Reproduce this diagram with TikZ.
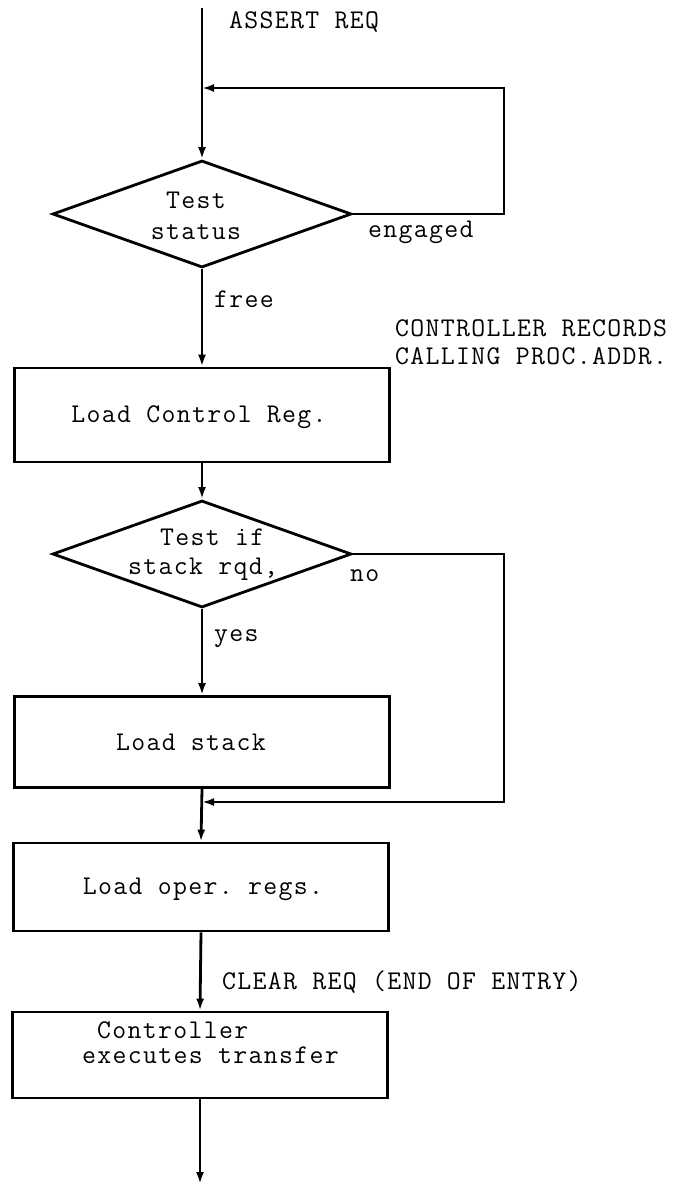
\documentclass[tikz,border=0pt]{standalone}
\usepackage{fontspec}
\setmonofont{Latin Modern Mono}[LetterSpace=5]
\usetikzlibrary{arrows.meta,shapes.geometric}
\tikzset{
  flow/.style={line width=2.8pt},
  arr/.style={flow,-{Latex[length=12pt,width=8pt]}},
  procbox/.style={draw,line width=2.8pt,minimum width=375pt,inner sep=0pt},
  decision/.style={draw,diamond,line width=2.8pt,inner sep=0pt,
    minimum width=299pt,minimum height=107pt},
  txt/.style={font=\ttfamily\fontsize{27}{28}\selectfont,inner sep=0pt},
}
\begin{document}
\begin{tikzpicture}[x=1pt,y=-1pt]
\useasboundingbox (0,0) rectangle (688,1187);

% entry and busy-wait loop
\coordinate (start) at (202,8);
\coordinate (join1) at (202,88);
\node[txt,anchor=west] (assert) at (229,22) {ASSERT REQ};
\node[decision] (d1) at (202,214) {};
\node[txt] (d1a) at (196,200) {Test};
\node[txt] (d1b) at (196,232) {status};
\coordinate (r1) at (504,88);
\node[txt,anchor=west] (engaged) at (368,232) {engaged};

\draw[flow] (start) -- (join1);
\draw[arr] (join1) -- (d1.north);
\draw[arr] (d1.east) -| (r1) -- (join1);

% control register
\node[txt,anchor=west] (free) at (214,299) {free};
\node[procbox,minimum height=94pt] (b1) at (202,415) {};
\node[txt] (b1t) at (199,417) {Load Control Reg.};
\node[txt,anchor=west] (rec1) at (395,328) {CONTROLLER RECORDS};
\node[txt,anchor=west] (rec2) at (395,356) {CALLING PROC.ADDR.};
\draw[arr] (d1.south) -- (b1.north);

% optional stack load
\node[decision] (d2) at (202,554) {};
\node[txt,anchor=west] (d2a) at (160,537) {Test if};
\node[txt,anchor=west] (d2b) at (128,569) {stack rqd,};
\node[txt,anchor=west] (no) at (350,576) {no};
\node[txt,anchor=west] (yes) at (214,639) {yes};
\node[procbox,minimum height=91pt] (b2) at (202,742) {};
\node[txt] (b2t) at (191,742) {Load stack};
\coordinate (r2) at (504,802);
\coordinate (join2) at (202,802);

\draw[arr] (b1.south) -- (d2.north);
\draw[arr] (d2.south) -- (b2.north);
\draw[arr] (d2.east) -| (r2) -- (join2);

% operand registers and transfer
\node[procbox,minimum height=88pt] (b3) at (201,887) {};
\node[txt] (b3t) at (203,889) {Load oper. regs.};
\node[txt,anchor=west] (clear) at (222,982) {CLEAR REQ (END OF ENTRY)};
\node[procbox,minimum height=86pt] (b4) at (200,1055) {};
\node[txt,anchor=west] (b4a) at (97,1030) {Controller};
\node[txt,anchor=west] (b4b) at (82,1055) {executes transfer};
\coordinate (finish) at (200,1184);

\draw[arr] (b2.south) -- (b3.north);
\draw[arr] (b3.south) -- (b4.north);
\draw[arr] (b4.south) -- (finish);
\end{tikzpicture}
\end{document}
